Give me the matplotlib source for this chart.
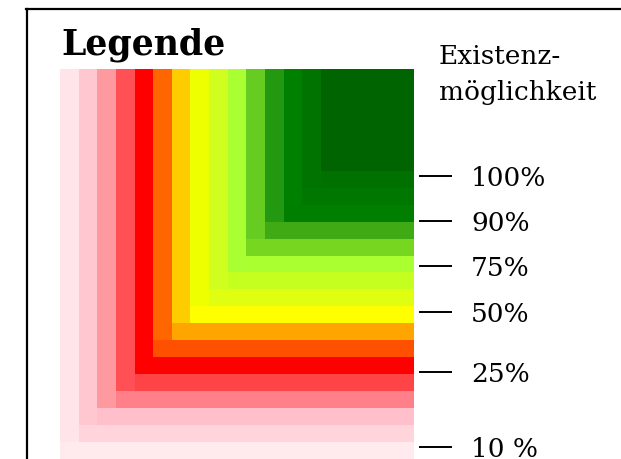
import matplotlib
matplotlib.use("Agg")
import matplotlib.pyplot as plt
from matplotlib.lines import Line2D

# ---- data ----
# horizontal bands (from bottom), colours
band_colors = ["#FFEAEE", "#FFD4DA", "#FFC0CC", "#FF8088", "#FF4448", "#FF0000",
               "#FF5000", "#FFA500", "#FFFF00", "#E0FF10", "#C4FF20", "#AAFF30",
               "#77D620", "#40AA15", "#007E00", "#007700", "#007000"]
# vertical columns (from left), colours and the band level where each one ends
col_colors = ["#FFE4E9", "#FFC8D0", "#FF99A0", "#FF5055", "#FF0000", "#FF6600",
              "#FFCC00", "#EEFF00", "#D0FF1F", "#AAFF33", "#66CC22", "#229911",
              "#008000", "#007300"]
col_bottoms = [1, 2, 3, 4, 5, 7, 8, 9, 10, 11, 13, 14, 15, 16]
core_color = "#006400"
core_bottom = 17

tick_labels = ["100%", "90%", "75%", "50%", "25%", "10 %"]
tick_levels = [16.69, 14.04, 11.38, 8.67, 5.13, 0.71]

title = "Legende"
axis_title_lines = ["Existenz-", "möglichkeit"]

# ---- figure ----
W, H = 621, 459
fig = plt.figure(figsize=(W / 100, H / 100), dpi=100)

top_level = 23
n_cols = len(col_colors)
right_edge = 19

ax = fig.add_axes([60 / W, 0, 354 / W, 390 / H])
ax.set_xlim(0, right_edge)
ax.set_ylim(0, top_level)

ax.barh(range(len(band_colors)), [right_edge] * len(band_colors), left=0,
        height=1, align="edge", color=band_colors, linewidth=0, antialiased=False)
ax.bar(range(n_cols), [top_level - b for b in col_bottoms], bottom=col_bottoms,
       width=1, align="edge", color=col_colors, linewidth=0, antialiased=False)
ax.bar([n_cols], [top_level - core_bottom], bottom=[core_bottom],
       width=right_edge - n_cols, align="edge", color=core_color, linewidth=0,
       antialiased=False)

for s in ax.spines.values():
    s.set_visible(False)
ax.spines["right"].set_position(("outward", 3.6))
ax.set_xticks([])
ax.yaxis.tick_right()
ax.set_yticks(tick_levels)
ax.set_yticklabels(tick_labels, fontsize=19, family="DejaVu Serif")
ax.tick_params(axis="y", which="both", length=23.8, width=1.4, pad=13.7,
               direction="out", right=True, left=False, colors="black")
for lab in ax.get_yticklabels():
    lab.set_clip_on(False)

# frame lines
fig.add_artist(Line2D([27 / W, 27 / W], [0, 1 - 9 / H], transform=fig.transFigure,
                      color="black", linewidth=1.6))
fig.add_artist(Line2D([26 / W, 1], [1 - 9 / H, 1 - 9 / H], transform=fig.transFigure,
                      color="black", linewidth=1.6))

fig.text(61 / W, 1 - 55 / H, title, fontsize=25, fontweight="bold",
         family="DejaVu Serif", ha="left", va="baseline")
for line, base in zip(axis_title_lines, [64, 100]):
    fig.text(439 / W, 1 - base / H, line, fontsize=19, family="DejaVu Serif",
             ha="left", va="baseline")

fig.savefig("out.png", dpi=100)
